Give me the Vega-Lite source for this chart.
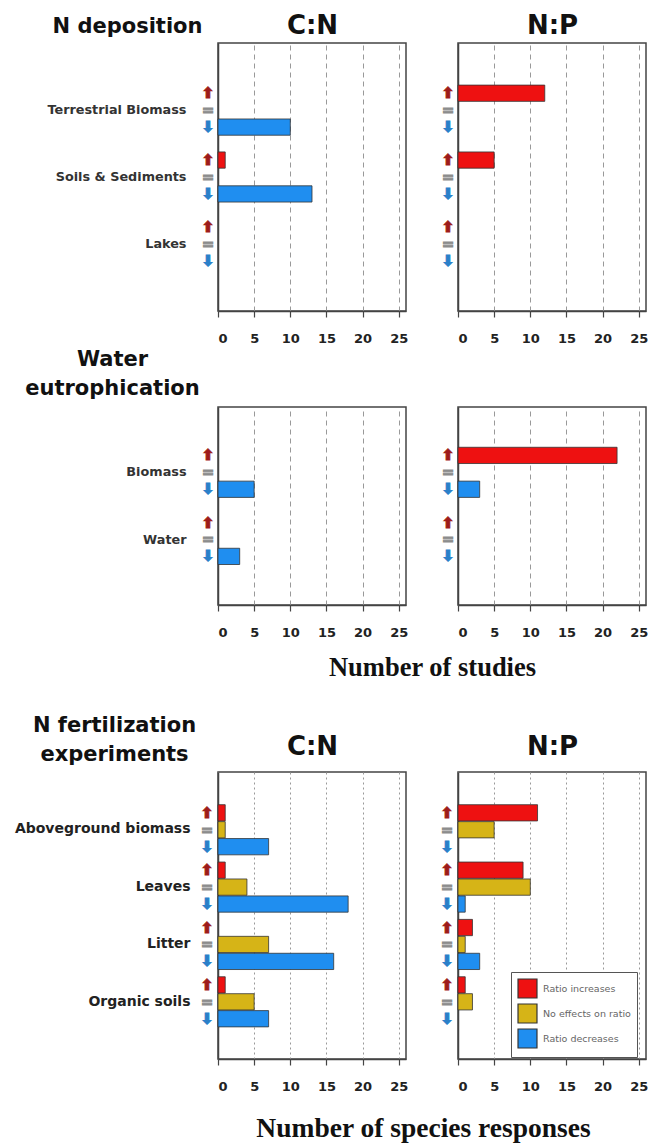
{
  "$schema": "https://vega.github.io/schema/vega-lite/v6.json",
  "padding": {"left": 13, "top": 11, "right": 5, "bottom": 2},
  "background": "white",
  "datasets": {
    "d": [
      {"row": "dep", "ratio": "C:N", "category": "Terrestrial Biomass", "response": "Ratio increases", "value": 0},
      {"row": "dep", "ratio": "C:N", "category": "Terrestrial Biomass", "response": "No effects on ratio", "value": 0},
      {"row": "dep", "ratio": "C:N", "category": "Terrestrial Biomass", "response": "Ratio decreases", "value": 10},
      {"row": "dep", "ratio": "C:N", "category": "Soils & Sediments", "response": "Ratio increases", "value": 1},
      {"row": "dep", "ratio": "C:N", "category": "Soils & Sediments", "response": "No effects on ratio", "value": 0},
      {"row": "dep", "ratio": "C:N", "category": "Soils & Sediments", "response": "Ratio decreases", "value": 13},
      {"row": "dep", "ratio": "C:N", "category": "Lakes", "response": "Ratio increases", "value": 0},
      {"row": "dep", "ratio": "C:N", "category": "Lakes", "response": "No effects on ratio", "value": 0},
      {"row": "dep", "ratio": "C:N", "category": "Lakes", "response": "Ratio decreases", "value": 0},
      {"row": "dep", "ratio": "N:P", "category": "Terrestrial Biomass", "response": "Ratio increases", "value": 12},
      {"row": "dep", "ratio": "N:P", "category": "Terrestrial Biomass", "response": "No effects on ratio", "value": 0},
      {"row": "dep", "ratio": "N:P", "category": "Terrestrial Biomass", "response": "Ratio decreases", "value": 0},
      {"row": "dep", "ratio": "N:P", "category": "Soils & Sediments", "response": "Ratio increases", "value": 0},
      {"row": "dep", "ratio": "N:P", "category": "Soils & Sediments", "response": "No effects on ratio", "value": 0},
      {"row": "dep", "ratio": "N:P", "category": "Soils & Sediments", "response": "Ratio decreases", "value": 0},
      {"row": "dep", "ratio": "N:P", "category": "Lakes", "response": "Ratio increases", "value": 5},
      {"row": "dep", "ratio": "N:P", "category": "Lakes", "response": "No effects on ratio", "value": 0},
      {"row": "dep", "ratio": "N:P", "category": "Lakes", "response": "Ratio decreases", "value": 0},
      {"row": "eut", "ratio": "C:N", "category": "Biomass", "response": "Ratio increases", "value": 0},
      {"row": "eut", "ratio": "C:N", "category": "Biomass", "response": "No effects on ratio", "value": 0},
      {"row": "eut", "ratio": "C:N", "category": "Biomass", "response": "Ratio decreases", "value": 5},
      {"row": "eut", "ratio": "C:N", "category": "Water", "response": "Ratio increases", "value": 0},
      {"row": "eut", "ratio": "C:N", "category": "Water", "response": "No effects on ratio", "value": 0},
      {"row": "eut", "ratio": "C:N", "category": "Water", "response": "Ratio decreases", "value": 3},
      {"row": "eut", "ratio": "N:P", "category": "Biomass", "response": "Ratio increases", "value": 0},
      {"row": "eut", "ratio": "N:P", "category": "Biomass", "response": "No effects on ratio", "value": 0},
      {"row": "eut", "ratio": "N:P", "category": "Biomass", "response": "Ratio decreases", "value": 0},
      {"row": "eut", "ratio": "N:P", "category": "Water", "response": "Ratio increases", "value": 22},
      {"row": "eut", "ratio": "N:P", "category": "Water", "response": "No effects on ratio", "value": 0},
      {"row": "eut", "ratio": "N:P", "category": "Water", "response": "Ratio decreases", "value": 3},
      {"row": "fert", "ratio": "C:N", "category": "Aboveground biomass", "response": "Ratio increases", "value": 1},
      {"row": "fert", "ratio": "C:N", "category": "Aboveground biomass", "response": "No effects on ratio", "value": 1},
      {"row": "fert", "ratio": "C:N", "category": "Aboveground biomass", "response": "Ratio decreases", "value": 7},
      {"row": "fert", "ratio": "C:N", "category": "Leaves", "response": "Ratio increases", "value": 1},
      {"row": "fert", "ratio": "C:N", "category": "Leaves", "response": "No effects on ratio", "value": 4},
      {"row": "fert", "ratio": "C:N", "category": "Leaves", "response": "Ratio decreases", "value": 18},
      {"row": "fert", "ratio": "C:N", "category": "Litter", "response": "Ratio increases", "value": 0},
      {"row": "fert", "ratio": "C:N", "category": "Litter", "response": "No effects on ratio", "value": 7},
      {"row": "fert", "ratio": "C:N", "category": "Litter", "response": "Ratio decreases", "value": 16},
      {"row": "fert", "ratio": "C:N", "category": "Organic soils", "response": "Ratio increases", "value": 1},
      {"row": "fert", "ratio": "C:N", "category": "Organic soils", "response": "No effects on ratio", "value": 5},
      {"row": "fert", "ratio": "C:N", "category": "Organic soils", "response": "Ratio decreases", "value": 7},
      {"row": "fert", "ratio": "N:P", "category": "Aboveground biomass", "response": "Ratio increases", "value": 11},
      {"row": "fert", "ratio": "N:P", "category": "Aboveground biomass", "response": "No effects on ratio", "value": 5},
      {"row": "fert", "ratio": "N:P", "category": "Aboveground biomass", "response": "Ratio decreases", "value": 0},
      {"row": "fert", "ratio": "N:P", "category": "Leaves", "response": "Ratio increases", "value": 9},
      {"row": "fert", "ratio": "N:P", "category": "Leaves", "response": "No effects on ratio", "value": 10},
      {"row": "fert", "ratio": "N:P", "category": "Leaves", "response": "Ratio decreases", "value": 1},
      {"row": "fert", "ratio": "N:P", "category": "Litter", "response": "Ratio increases", "value": 2},
      {"row": "fert", "ratio": "N:P", "category": "Litter", "response": "No effects on ratio", "value": 1},
      {"row": "fert", "ratio": "N:P", "category": "Litter", "response": "Ratio decreases", "value": 3},
      {"row": "fert", "ratio": "N:P", "category": "Organic soils", "response": "Ratio increases", "value": 1},
      {"row": "fert", "ratio": "N:P", "category": "Organic soils", "response": "No effects on ratio", "value": 2},
      {"row": "fert", "ratio": "N:P", "category": "Organic soils", "response": "Ratio decreases", "value": 0}
    ]
  },
  "columns": 2,
  "bounds": "flush",
  "spacing": {"row": 16, "column": 52},
  "resolve": {"legend": {"color": "independent"}},
  "concat": [
    {
      "width": 188, "height": 268,
      "data": {"name": "d"},
      "transform": [{"filter": "datum.row === 'dep' && datum.ratio === 'C:N'"}],
      "resolve": {"axis": {"x": "independent"}},
      "encoding": {
        "y": {"field": "category", "type": "nominal", "sort": null, "scale": {"paddingInner": 0.25, "paddingOuter": 0.63},
              "axis": {"title": "N deposition", "titleX": -91, "titleY": -11, "labelFontSize": 12.8, "labelPadding": 32}},
        "yOffset": {"field": "response", "type": "nominal", "scale": {"domain": ["Ratio increases", "No effects on ratio", "Ratio decreases"], "paddingInner": 0.04}}
      },
      "layer": [
        {"transform": [{"filter": "datum.value > 0"}],
         "mark": {"type": "bar", "stroke": "#333", "strokeWidth": 0.8},
         "encoding": {
           "x": {"field": "value", "type": "quantitative", "scale": {"domain": [0, 25]}, "axis": {"values": [0, 5, 10, 15, 20, 25], "title": null}},
           "color": {"field": "response", "type": "nominal", "scale": {"domain": ["Ratio increases", "No effects on ratio", "Ratio decreases"], "range": ["#ee1111", "#d6b417", "#1f8ef0"]}, "legend": null}
         }},
        {"mark": {"type": "text", "dx": -10, "fontSize": 15, "fontWeight": "bold", "baseline": "middle", "align": "center", "strokeWidth": 0.9},
         "encoding": {
           "x": {"datum": 0, "type": "quantitative", "axis": {"orient": "top", "title": "C:N", "titleFontSize": 26, "titleX": 94, "titleY": -10, "labels": false, "ticks": false, "domain": false, "grid": false}},
           "text": {"condition": [{"test": "datum.response === 'Ratio increases'", "value": "⬆"}, {"test": "datum.response === 'No effects on ratio'", "value": "="}], "value": "⬇"},
           "color": {"condition": [{"test": "datum.response === 'Ratio increases'", "value": "#9e1b1b"}, {"test": "datum.response === 'No effects on ratio'", "value": "#8c8c8c"}], "value": "#2b7fc9"},
           "stroke": {"condition": [{"test": "datum.response === 'Ratio increases'", "value": "#9e1b1b"}, {"test": "datum.response === 'No effects on ratio'", "value": "#8c8c8c"}], "value": "#2b7fc9"}
         }}
      ]
    },
    {
      "width": 188, "height": 268,
      "data": {"name": "d"},
      "transform": [{"filter": "datum.row === 'dep' && datum.ratio === 'N:P'"}],
      "resolve": {"axis": {"x": "independent"}},
      "encoding": {
        "y": {"field": "category", "type": "nominal", "sort": null, "scale": {"paddingInner": 0.25, "paddingOuter": 0.63},
              "axis": {"title": null, "labels": false}},
        "yOffset": {"field": "response", "type": "nominal", "scale": {"domain": ["Ratio increases", "No effects on ratio", "Ratio decreases"], "paddingInner": 0.04}}
      },
      "layer": [
        {"transform": [{"filter": "datum.value > 0"}],
         "mark": {"type": "bar", "stroke": "#333", "strokeWidth": 0.8},
         "encoding": {
           "x": {"field": "value", "type": "quantitative", "scale": {"domain": [0, 25]}, "axis": {"values": [0, 5, 10, 15, 20, 25], "title": null}},
           "color": {"field": "response", "type": "nominal", "scale": {"domain": ["Ratio increases", "No effects on ratio", "Ratio decreases"], "range": ["#ee1111", "#d6b417", "#1f8ef0"]}, "legend": null}
         }},
        {"mark": {"type": "text", "dx": -10, "fontSize": 15, "fontWeight": "bold", "baseline": "middle", "align": "center", "strokeWidth": 0.9},
         "encoding": {
           "x": {"datum": 0, "type": "quantitative", "axis": {"orient": "top", "title": "N:P", "titleFontSize": 26, "titleX": 94, "titleY": -10, "labels": false, "ticks": false, "domain": false, "grid": false}},
           "text": {"condition": [{"test": "datum.response === 'Ratio increases'", "value": "⬆"}, {"test": "datum.response === 'No effects on ratio'", "value": "="}], "value": "⬇"},
           "color": {"condition": [{"test": "datum.response === 'Ratio increases'", "value": "#9e1b1b"}, {"test": "datum.response === 'No effects on ratio'", "value": "#8c8c8c"}], "value": "#2b7fc9"},
           "stroke": {"condition": [{"test": "datum.response === 'Ratio increases'", "value": "#9e1b1b"}, {"test": "datum.response === 'No effects on ratio'", "value": "#8c8c8c"}], "value": "#2b7fc9"}
         }}
      ]
    },
    {"width": 10, "height": 64, "data": {"values": []}, "mark": "point", "view": {"stroke": null}},
    {"width": 10, "height": 64, "data": {"values": []}, "mark": "point", "view": {"stroke": null}},
    {
      "width": 188, "height": 198,
      "data": {"name": "d"},
      "transform": [{"filter": "datum.row === 'eut' && datum.ratio === 'C:N'"}],
      "resolve": {"axis": {"x": "independent"}},
      "encoding": {
        "y": {"field": "category", "type": "nominal", "sort": null, "scale": {"paddingInner": 0.25, "paddingOuter": 0.6},
              "axis": {"title": ["Water", "eutrophication"], "titleX": -106, "titleY": -42, "labelFontSize": 12.8, "labelPadding": 32}},
        "yOffset": {"field": "response", "type": "nominal", "scale": {"domain": ["Ratio increases", "No effects on ratio", "Ratio decreases"], "paddingInner": 0.04}}
      },
      "layer": [
        {"transform": [{"filter": "datum.value > 0"}],
         "mark": {"type": "bar", "stroke": "#333", "strokeWidth": 0.8},
         "encoding": {
           "x": {"field": "value", "type": "quantitative", "scale": {"domain": [0, 25]},
                 "axis": {"values": [0, 5, 10, 15, 20, 25], "title": "Number of studies", "titleFont": "Liberation Serif", "titleFontSize": 26.5, "titleFontWeight": "bold", "titleX": 214, "titleY": 70, "titleBaseline": "alphabetic", "titleAlign": "center", "titleColor": "#111"}},
           "color": {"field": "response", "type": "nominal", "scale": {"domain": ["Ratio increases", "No effects on ratio", "Ratio decreases"], "range": ["#ee1111", "#d6b417", "#1f8ef0"]}, "legend": null}
         }},
        {"mark": {"type": "text", "dx": -10, "fontSize": 15, "fontWeight": "bold", "baseline": "middle", "align": "center", "strokeWidth": 0.9},
         "encoding": {
           "x": {"datum": 0, "type": "quantitative", "axis": null},
           "text": {"condition": [{"test": "datum.response === 'Ratio increases'", "value": "⬆"}, {"test": "datum.response === 'No effects on ratio'", "value": "="}], "value": "⬇"},
           "color": {"condition": [{"test": "datum.response === 'Ratio increases'", "value": "#9e1b1b"}, {"test": "datum.response === 'No effects on ratio'", "value": "#8c8c8c"}], "value": "#2b7fc9"},
           "stroke": {"condition": [{"test": "datum.response === 'Ratio increases'", "value": "#9e1b1b"}, {"test": "datum.response === 'No effects on ratio'", "value": "#8c8c8c"}], "value": "#2b7fc9"}
         }}
      ]
    },
    {
      "width": 188, "height": 198,
      "data": {"name": "d"},
      "transform": [{"filter": "datum.row === 'eut' && datum.ratio === 'N:P'"}],
      "resolve": {"axis": {"x": "independent"}},
      "encoding": {
        "y": {"field": "category", "type": "nominal", "sort": null, "scale": {"paddingInner": 0.25, "paddingOuter": 0.6},
              "axis": {"title": null, "labels": false}},
        "yOffset": {"field": "response", "type": "nominal", "scale": {"domain": ["Ratio increases", "No effects on ratio", "Ratio decreases"], "paddingInner": 0.04}}
      },
      "layer": [
        {"transform": [{"filter": "datum.value > 0"}],
         "mark": {"type": "bar", "stroke": "#333", "strokeWidth": 0.8},
         "encoding": {
           "x": {"field": "value", "type": "quantitative", "scale": {"domain": [0, 25]}, "axis": {"values": [0, 5, 10, 15, 20, 25], "title": null}},
           "color": {"field": "response", "type": "nominal", "scale": {"domain": ["Ratio increases", "No effects on ratio", "Ratio decreases"], "range": ["#ee1111", "#d6b417", "#1f8ef0"]}, "legend": null}
         }},
        {"mark": {"type": "text", "dx": -10, "fontSize": 15, "fontWeight": "bold", "baseline": "middle", "align": "center", "strokeWidth": 0.9},
         "encoding": {
           "x": {"datum": 0, "type": "quantitative", "axis": null},
           "text": {"condition": [{"test": "datum.response === 'Ratio increases'", "value": "⬆"}, {"test": "datum.response === 'No effects on ratio'", "value": "="}], "value": "⬇"},
           "color": {"condition": [{"test": "datum.response === 'Ratio increases'", "value": "#9e1b1b"}, {"test": "datum.response === 'No effects on ratio'", "value": "#8c8c8c"}], "value": "#2b7fc9"},
           "stroke": {"condition": [{"test": "datum.response === 'Ratio increases'", "value": "#9e1b1b"}, {"test": "datum.response === 'No effects on ratio'", "value": "#8c8c8c"}], "value": "#2b7fc9"}
         }}
      ]
    },
    {"width": 10, "height": 135, "data": {"values": []}, "mark": "point", "view": {"stroke": null}},
    {"width": 10, "height": 135, "data": {"values": []}, "mark": "point", "view": {"stroke": null}},
    {
      "width": 188, "height": 287,
      "data": {"name": "d"},
      "transform": [{"filter": "datum.row === 'fert' && datum.ratio === 'C:N'"}],
      "resolve": {"axis": {"x": "independent"}},
      "encoding": {
        "y": {"field": "category", "type": "nominal", "sort": null, "scale": {"paddingInner": 0.136, "paddingOuter": 0.57},
              "axis": {"title": ["N fertilization", "experiments"], "titleX": -104, "titleY": -41, "labelFontSize": 14, "labelPadding": 28, "labelColor": "#222"}},
        "yOffset": {"field": "response", "type": "nominal", "scale": {"domain": ["Ratio increases", "No effects on ratio", "Ratio decreases"], "paddingInner": 0.04}}
      },
      "layer": [
        {"transform": [{"filter": "datum.value > 0"}],
         "mark": {"type": "bar", "stroke": "#333", "strokeWidth": 0.8},
         "encoding": {
           "x": {"field": "value", "type": "quantitative", "scale": {"domain": [0, 25]},
                 "axis": {"values": [0, 5, 10, 15, 20, 25], "gridDash": [2, 3], "title": "Number of species responses", "titleFont": "Liberation Serif", "titleFontSize": 27.5, "titleFontWeight": "bold", "titleX": 205, "titleY": 77, "titleBaseline": "alphabetic", "titleAlign": "center", "titleColor": "#111"}},
           "color": {"field": "response", "type": "nominal", "scale": {"domain": ["Ratio increases", "No effects on ratio", "Ratio decreases"], "range": ["#ee1111", "#d6b417", "#1f8ef0"]}, "legend": null}
         }},
        {"mark": {"type": "text", "dx": -11, "fontSize": 15, "fontWeight": "bold", "baseline": "middle", "align": "center", "strokeWidth": 0.9},
         "encoding": {
           "x": {"datum": 0, "type": "quantitative", "axis": {"orient": "top", "title": "C:N", "titleFontSize": 26, "titleX": 94, "titleY": -18, "labels": false, "ticks": false, "domain": false, "grid": false}},
           "text": {"condition": [{"test": "datum.response === 'Ratio increases'", "value": "⬆"}, {"test": "datum.response === 'No effects on ratio'", "value": "="}], "value": "⬇"},
           "color": {"condition": [{"test": "datum.response === 'Ratio increases'", "value": "#9e1b1b"}, {"test": "datum.response === 'No effects on ratio'", "value": "#8c8c8c"}], "value": "#2b7fc9"},
           "stroke": {"condition": [{"test": "datum.response === 'Ratio increases'", "value": "#9e1b1b"}, {"test": "datum.response === 'No effects on ratio'", "value": "#8c8c8c"}], "value": "#2b7fc9"}
         }}
      ]
    },
    {
      "width": 188, "height": 287,
      "data": {"name": "d"},
      "transform": [{"filter": "datum.row === 'fert' && datum.ratio === 'N:P'"}],
      "resolve": {"axis": {"x": "independent"}},
      "encoding": {
        "y": {"field": "category", "type": "nominal", "sort": null, "scale": {"paddingInner": 0.136, "paddingOuter": 0.57},
              "axis": {"title": null, "labels": false}},
        "yOffset": {"field": "response", "type": "nominal", "scale": {"domain": ["Ratio increases", "No effects on ratio", "Ratio decreases"], "paddingInner": 0.04}}
      },
      "layer": [
        {"transform": [{"filter": "datum.value > 0"}],
         "mark": {"type": "bar", "stroke": "#333", "strokeWidth": 0.8},
         "encoding": {
           "x": {"field": "value", "type": "quantitative", "scale": {"domain": [0, 25]}, "axis": {"values": [0, 5, 10, 15, 20, 25], "gridDash": [2, 3], "title": null}},
           "color": {"field": "response", "type": "nominal", "scale": {"domain": ["Ratio increases", "No effects on ratio", "Ratio decreases"], "range": ["#ee1111", "#d6b417", "#1f8ef0"]},
                     "legend": {"orient": "none", "legendX": 53, "legendY": 200, "title": null, "symbolType": "square", "symbolSize": 360, "symbolStrokeColor": "#333", "symbolStrokeWidth": 1.2, "labelFontSize": 9.5, "labelFont": "DejaVu Sans", "labelColor": "#666", "labelFontWeight": "normal", "rowPadding": 0, "padding": 6, "strokeColor": "#555", "fillColor": "white", "labelOffset": 5}}
         }},
        {"mark": {"type": "text", "dx": -11, "fontSize": 15, "fontWeight": "bold", "baseline": "middle", "align": "center", "strokeWidth": 0.9},
         "encoding": {
           "x": {"datum": 0, "type": "quantitative", "axis": {"orient": "top", "title": "N:P", "titleFontSize": 26, "titleX": 94, "titleY": -18, "labels": false, "ticks": false, "domain": false, "grid": false}},
           "text": {"condition": [{"test": "datum.response === 'Ratio increases'", "value": "⬆"}, {"test": "datum.response === 'No effects on ratio'", "value": "="}], "value": "⬇"},
           "color": {"condition": [{"test": "datum.response === 'Ratio increases'", "value": "#9e1b1b"}, {"test": "datum.response === 'No effects on ratio'", "value": "#8c8c8c"}], "value": "#2b7fc9"},
           "stroke": {"condition": [{"test": "datum.response === 'Ratio increases'", "value": "#9e1b1b"}, {"test": "datum.response === 'No effects on ratio'", "value": "#8c8c8c"}], "value": "#2b7fc9"}
         }}
      ]
    }
  ],
  "config": {
    "font": "DejaVu Sans",
    "view": {"stroke": "#444", "strokeWidth": 1.5},
    "axis": {"labelFont": "DejaVu Sans", "labelFontWeight": "bold", "domainColor": "#444", "domainWidth": 1.5, "tickColor": "#444", "tickWidth": 1.2, "labelOverlap": false,
             "titleFont": "DejaVu Sans", "titleFontSize": 21, "titleFontWeight": "bold", "titleColor": "#111", "titleAngle": 0, "titleAlign": "center", "titleBaseline": "alphabetic", "titleLineHeight": 29},
    "axisX": {"grid": true, "gridDash": [5, 4], "gridColor": "#999", "gridWidth": 1, "tickSize": 6, "labelFontSize": 13, "labelColor": "#222", "labelPadding": 15},
    "axisY": {"ticks": false, "grid": false, "labelColor": "#333", "labelLimit": 300}
  }
}
